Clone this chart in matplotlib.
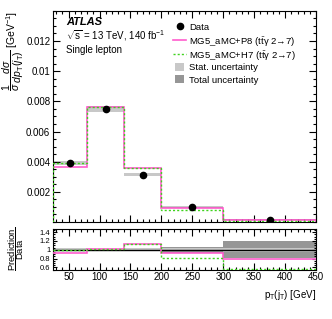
import numpy as np
import matplotlib
matplotlib.use("Agg")
import matplotlib.pyplot as plt
from matplotlib.patches import Rectangle
from matplotlib.ticker import MultipleLocator

plt.rcParams['font.family'] = ['Liberation Sans', 'DejaVu Sans']
plt.rcParams['mathtext.fontset'] = 'custom'
plt.rcParams['mathtext.rm'] = 'Liberation Sans'
plt.rcParams['mathtext.it'] = 'Liberation Sans:italic'
plt.rcParams['mathtext.bf'] = 'Liberation Sans:bold'

# Bins pT(jT) [GeV]
edges = [25, 80, 140, 200, 300, 450]
data = [0.00393, 0.0075, 0.00313, 0.00102, 0.00015]
p8 = [0.00362, 0.00765, 0.00357, 0.00095, 0.00012]
h7 = [0.00393, 0.00765, 0.00357, 0.00082, 0.000085]
stat_rel = [0.03, 0.025, 0.035, 0.03, 0.04]
tot_rel = [0.03, 0.025, 0.035, 0.07, 0.19]

edges = np.array(edges)
data = np.array(data)
p8 = np.array(p8)
h7 = np.array(h7)
stat_rel = np.array(stat_rel)
tot_rel = np.array(tot_rel)
centers = 0.5 * (edges[:-1] + edges[1:])

c_p8 = '#ff5ccd'
c_h7 = '#3fd21e'
c_stat = '#c8c8c8'
c_tot = '#969696'
dots = (0, (1.5, 1.5))

fig = plt.figure(figsize=(3.32, 3.19), dpi=100)
ax = fig.add_axes([0.160, 0.304, 0.792, 0.662])
rax = fig.add_axes([0.160, 0.155, 0.792, 0.127])

# main panel
for i in range(len(data)):
    ax.fill_between([edges[i], edges[i + 1]], data[i] * (1 - tot_rel[i]), data[i] * (1 + tot_rel[i]),
                    color=c_tot, lw=0, zorder=1)
    ax.fill_between([edges[i], edges[i + 1]], data[i] * (1 - stat_rel[i]), data[i] * (1 + stat_rel[i]),
                    color=c_stat, lw=0, zorder=1.5)
ax.stairs(p8, edges, color=c_p8, lw=1.2, zorder=2)
ax.stairs(h7, edges, color=c_h7, lw=1.0, ls=dots, zorder=3)
ax.plot(centers, data, 'o', color='black', ms=4.5, zorder=4)

ax.set_xlim(25, 450)
ax.set_ylim(0, 0.014)
ax.set_yticks([0.002, 0.004, 0.006, 0.008, 0.01, 0.012])
ax.set_yticklabels(['0.002', '0.004', '0.006', '0.008', '0.01', '0.012'])
ax.yaxis.set_minor_locator(MultipleLocator(0.0005))
ax.xaxis.set_major_locator(MultipleLocator(50))
ax.xaxis.set_minor_locator(MultipleLocator(10))
ax.set_xticklabels([])
ax.set_ylabel(r'$\dfrac{1}{\sigma}\,\dfrac{d\sigma}{dp_{\mathrm{T}}(j_{\mathrm{T}})}$ [GeV$^{\mathrm{-1}}$]',
              fontsize=7.5, loc='top', labelpad=0)

ax.text(0.05, 0.935, 'ATLAS', transform=ax.transAxes, fontsize=8, fontweight='bold', style='italic')
ax.text(0.05, 0.865, r'$\sqrt{\mathrm{s}}$ = 13 TeV, 140 fb$^{\mathrm{-1}}$', transform=ax.transAxes, fontsize=7)
ax.text(0.05, 0.80, 'Single lepton', transform=ax.transAxes, fontsize=7)

# legend, drawn by hand so the rows are evenly spaced
rows = [0.926, 0.862, 0.797, 0.735, 0.675]
hx0, hx1, tx = 0.456, 0.506, 0.518
ax.plot([(hx0 + hx1) / 2], [rows[0]], 'o', color='black', ms=4.5, transform=ax.transAxes)
ax.plot([hx0, hx1], [rows[1]] * 2, color=c_p8, lw=1.2, transform=ax.transAxes)
ax.plot([hx0, hx1], [rows[2]] * 2, color=c_h7, lw=1.0, ls=dots, transform=ax.transAxes)
ax.add_patch(Rectangle((hx0 + 0.006, rows[3] - 0.019), 0.036, 0.038, color=c_stat, lw=0, transform=ax.transAxes))
ax.add_patch(Rectangle((hx0 + 0.006, rows[4] - 0.019), 0.036, 0.038, color=c_tot, lw=0, transform=ax.transAxes))
labels = ['Data',
          'MG5_aMC+P8 (t$\\bar{\\mathrm{t}}$\u03b3 2\u21927)',
          'MG5_aMC+H7 (t$\\bar{\\mathrm{t}}$\u03b3 2\u21927)',
          'Stat. uncertainty',
          'Total uncertainty']
for y, lab in zip(rows, labels):
    ax.text(tx, y, lab, transform=ax.transAxes, fontsize=6.8, va='center_baseline')

# ratio panel
for i in range(len(data)):
    rax.fill_between([edges[i], edges[i + 1]], 1 - tot_rel[i], 1 + tot_rel[i], color=c_tot, lw=0, zorder=1)
    rax.fill_between([edges[i], edges[i + 1]], 1 - stat_rel[i], 1 + stat_rel[i], color=c_stat, lw=0, zorder=1.5)
rax.axhline(1, color='black', lw=1.0, zorder=2)
rax.stairs(p8 / data, edges, color=c_p8, lw=1.2, baseline=None, zorder=3)
rax.stairs(h7 / data, edges, color=c_h7, lw=1.0, ls=dots, baseline=None, zorder=4)

rax.set_xlim(25, 450)
rax.set_ylim(0.55, 1.47)
rax.set_yticks([0.6, 0.8, 1.0, 1.2, 1.4])
rax.set_yticklabels(['0.6', '0.8', '1', '1.2', '1.4'])
rax.yaxis.set_minor_locator(MultipleLocator(0.05))
rax.xaxis.set_major_locator(MultipleLocator(50))
rax.xaxis.set_minor_locator(MultipleLocator(10))
rax.set_ylabel(r'$\dfrac{\mathrm{Prediction}}{\mathrm{Data}}$', fontsize=6.8, labelpad=10)
rax.set_xlabel(r'p$_{\mathrm{T}}$(j$_{\mathrm{T}}$) [GeV]', fontsize=7, loc='right', labelpad=4)

for a in (ax, rax):
    a.tick_params(which='both', direction='in', top=True, right=True, labelsize=7, width=0.8)
    a.tick_params(which='major', length=5, pad=2)
    a.tick_params(which='minor', length=2.5)
    for s in a.spines.values():
        s.set_linewidth(0.8)
rax.tick_params(axis='y', which='major', labelsize=5.5, length=3)
rax.tick_params(axis='y', which='minor', length=1.5)

fig.savefig('out.png', dpi=100)
